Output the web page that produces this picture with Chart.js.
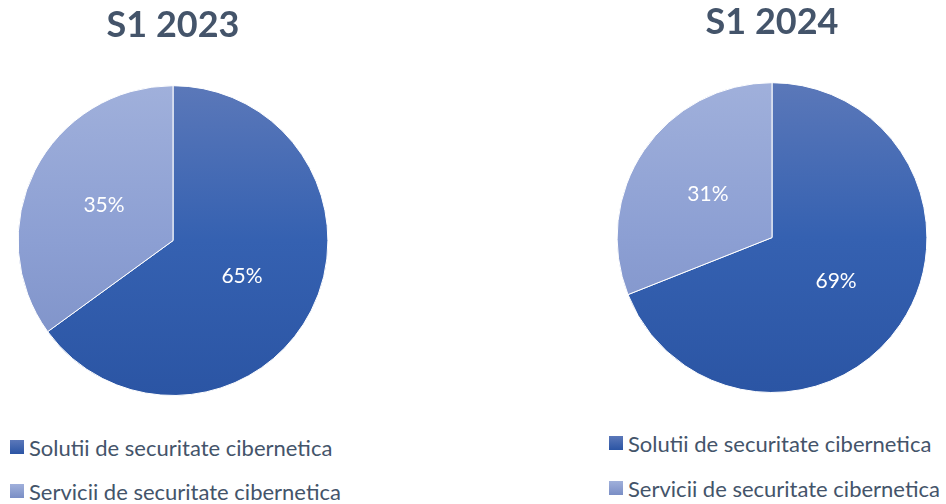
<!DOCTYPE html>
<html>
<head>
<meta charset="utf-8">
<script src="https://cdn.jsdelivr.net/npm/chart.js@4/dist/chart.umd.min.js"></script>
<style>
  html, body { margin: 0; padding: 0; background: #fff; }
  body { width: 946px; height: 504px; position: relative; overflow: hidden; font-family: Lato, sans-serif; }
  .wrap { position: absolute; width: 346px; height: 420px; }
  .legend { position: absolute; color: #44546a; font-size: 22px; }
  .legend div { position: absolute; white-space: nowrap; height: 24px; line-height: 24px; }
  .legend span.box { position: absolute; left: 0; top: 4px; width: 14px; height: 14px; }
  .legend span.txt { position: absolute; left: 19px; top: 0; }
</style>
</head>
<body>
<div class="wrap" style="left:0;top:0"><canvas id="pie2023"></canvas></div>
<div class="wrap" style="left:599px;top:-3px"><canvas id="pie2024"></canvas></div>
<div class="legend" id="legend2023" style="left:10px;top:0"></div>
<div class="legend" id="legend2024" style="left:609px;top:0"></div>
<script>
const categories = ['Solutii de securitate cibernetica', 'Servicii de securitate cibernetica'];
const titles = ['S1 2023', 'S1 2024'];
const values2023 = [65, 35];
const values2024 = [69, 31];

const gradStops = [
  ['#5b78b9', '#3561b1', '#2b55a4'],
  ['#a0b0db', '#8c9fd3', '#7a8ec5']
];

// vertical gradient over the whole pie, like the office chart
function sliceFill(ctx) {
  const i = ctx.dataIndex || 0;
  const area = ctx.chart.chartArea;
  if (!area) return gradStops[i][1];
  const g = ctx.chart.ctx.createLinearGradient(0, area.top, 0, area.bottom);
  g.addColorStop(0, gradStops[i][0]);
  g.addColorStop(0.5, gradStops[i][1]);
  g.addColorStop(1, gradStops[i][2]);
  return g;
}

const sliceLabels = {
  id: 'sliceLabels',
  afterDatasetsDraw(chart) {
    const { ctx } = chart;
    const meta = chart.getDatasetMeta(0);
    const data = chart.data.datasets[0].data;
    ctx.save();
    ctx.fillStyle = '#ffffff';
    ctx.font = '21px Lato';
    ctx.textAlign = 'center';
    ctx.textBaseline = 'middle';
    meta.data.forEach((arc, i) => {
      const { x, y, startAngle, endAngle, outerRadius } = arc.getProps(['x', 'y', 'startAngle', 'endAngle', 'outerRadius'], true);
      const mid = (startAngle + endAngle) / 2;
      const r = outerRadius * 0.5;
      ctx.fillText(data[i] + '%', x + Math.cos(mid) * r, y + Math.sin(mid) * r);
    });
    ctx.restore();
  }
};

function makePie(id, title, values) {
  new Chart(document.getElementById(id), {
    type: 'pie',
    plugins: [sliceLabels],
    data: {
      labels: categories,
      datasets: [{
        data: values,
        backgroundColor: sliceFill,
        borderColor: '#ffffff',
        borderWidth: 1
      }]
    },
    options: {
      responsive: false,
      animation: false,
      events: [],
      layout: { padding: { left: 17, right: 17, top: 0, bottom: 24 } },
      plugins: {
        legend: { display: false },
        tooltip: { enabled: false },
        title: {
          display: true,
          text: title,
          color: '#44546a',
          font: { family: 'Lato', size: 36, weight: 'bold', lineHeight: 1.2 },
          padding: { top: 4, bottom: 38 }
        }
      }
    }
  });
}

function makeLegend(id, rows) {
  const el = document.getElementById(id);
  categories.forEach((c, i) => {
    const row = document.createElement('div');
    row.style.top = rows[i] + 'px';
    const box = document.createElement('span');
    box.className = 'box';
    box.style.background = 'linear-gradient(' + gradStops[i][0] + ',' + gradStops[i][2] + ')';
    const txt = document.createElement('span');
    txt.className = 'txt';
    txt.textContent = c;
    row.appendChild(box);
    row.appendChild(txt);
    el.appendChild(row);
  });
}

document.querySelectorAll('canvas').forEach(c => { c.width = 346; c.height = 420; });
makePie('pie2023', titles[0], values2023);
makePie('pie2024', titles[1], values2024);
makeLegend('legend2023', [436, 480]);
makeLegend('legend2024', [432, 477]);
</script>
</body>
</html>
